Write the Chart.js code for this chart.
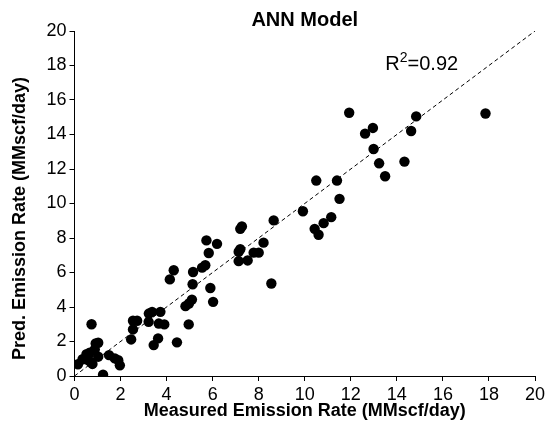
<!DOCTYPE html>
<html>
<head>
<meta charset="utf-8">
<script src="https://cdn.jsdelivr.net/npm/chart.js@4.4.1/dist/chart.umd.min.js"></script>
<style>
  body { margin: 0; background: #fff; }
</style>
</head>
<body>
<canvas id="annChart" width="557" height="431"></canvas>
<script>
// measured vs predicted emission rate
const measured = [
  0.15, 0.35, 0.52, 0.66, 0.69, 0.59, 0.78, 0.74, 0.88, 0.92, 1.03, 1.03, 1.24, 1.5, 1.75, 1.9, 1.97,
  2.46, 2.54, 2.54, 2.72, 3.23, 3.37, 3.73, 3.22, 3.66, 3.9, 3.63, 3.44, 4.45, 4.96, 4.82, 4.97, 5.1,
  4.14, 4.31, 5.15, 5.13, 5.54, 5.68, 5.73, 6.19, 5.83, 5.9, 6.02,
  7.2, 7.27, 7.2, 7.13, 7.13, 7.52, 7.78, 8.0, 8.21, 8.65, 8.55,
  9.92, 10.43, 10.6, 10.82, 11.15, 10.5, 11.4, 11.51,
  11.93, 12.62, 12.96, 12.99, 13.23, 13.49, 14.33, 14.62, 14.84, 17.85
];
const predicted = [
  0.68, 0.97, 1.27, 1.35, 0.83, 0.92, 0.7, 3.0, 1.54, 1.89, 1.93, 1.12, 0.08, 1.21, 1.02, 0.92, 0.62,
  2.12, 2.7, 3.2, 3.2, 3.62, 3.72, 3.72, 3.14, 3.04, 2.99, 2.18, 1.79, 1.95, 2.99, 4.05, 4.2, 4.43,
  5.6, 6.13, 6.03, 5.32, 6.28, 6.42, 7.86, 7.66, 7.13, 5.1, 4.3,
  8.53, 8.67, 7.35, 7.2, 6.66, 6.7, 7.15, 7.15, 7.73, 9.02, 5.36,
  9.55, 8.53, 8.19, 8.86, 9.21, 11.33, 11.33, 10.27,
  15.26, 14.05, 14.38, 13.16, 12.33, 11.58, 12.43, 14.2, 15.05, 15.22
];
const fitLine = [0, 20]; // 1:1 line
const axisTicks = [0, 2, 4, 6, 8, 10, 12, 14, 16, 18, 20];
const r2Text = { base: "R", sup: "2", rest: "=0.92", x: 13.5, y: 17.75 };

const fontFamily = "'Liberation Sans', Arial, Helvetica, sans-serif";

// R^2 label drawn at a data position
const r2Label = {
  id: "r2Label",
  afterDatasetsDraw(chart) {
    const { ctx, scales } = chart;
    const px = scales.x.getPixelForValue(r2Text.x);
    const py = scales.y.getPixelForValue(r2Text.y);
    ctx.save();
    ctx.fillStyle = "#000";
    ctx.textBaseline = "alphabetic";
    ctx.font = "20px " + fontFamily;
    ctx.fillText(r2Text.base, px, py);
    let w = ctx.measureText(r2Text.base).width;
    ctx.font = "14px " + fontFamily;
    ctx.fillText(r2Text.sup, px + w, py - 8);
    w += ctx.measureText(r2Text.sup).width;
    ctx.font = "20px " + fontFamily;
    ctx.fillText(r2Text.rest, px + w, py);
    ctx.restore();
  }
};

const points = measured.map((m, i) => ({ x: m, y: predicted[i] }));

const axisCommon = {
  type: "linear",
  min: 0,
  max: 20,
  afterBuildTicks: (scale) => { scale.ticks = axisTicks.map(v => ({ value: v })); },
  grid: { display: true, drawOnChartArea: false, drawTicks: true, tickLength: 5, color: "#000", lineWidth: 1 },
  border: { display: true, color: "#000", width: 1 },
  ticks: { color: "#000", padding: 3, font: { family: fontFamily, size: 18 } }
};

new Chart(document.getElementById("annChart"), {
  type: "scatter",
  data: {
    datasets: [
      {
        label: "ANN",
        data: points,
        backgroundColor: "#000",
        borderWidth: 0,
        pointRadius: 5.2,
        pointHoverRadius: 5.2
      },
      {
        type: "line",
        label: "1:1",
        data: fitLine.map(v => ({ x: v, y: v })),
        borderColor: "#000",
        borderWidth: 1,
        borderDash: [4, 3],
        pointRadius: 0,
        fill: false
      }
    ]
  },
  options: {
    responsive: false,
    animation: false,
    layout: { padding: { left: 0, right: 22, top: 0, bottom: 0 } },
    plugins: {
      legend: { display: false },
      tooltip: { enabled: false },
      title: {
        display: true,
        text: "ANN Model",
        fullSize: false,
        color: "#000",
        font: { family: fontFamily, size: 20, weight: "bold", lineHeight: 1.2 },
        padding: { top: 8, bottom: -1 }
      }
    },
    scales: {
      x: {
        ...axisCommon,
        position: "bottom",
        afterFit: (scale) => { scale.height = 55; },
        title: {
          display: true,
          text: "Measured Emission Rate (MMscf/day)",
          color: "#000",
          font: { family: fontFamily, size: 18, weight: "bold", lineHeight: 1.2 },
          padding: { top: 0, bottom: 9 }
        }
      },
      y: {
        ...axisCommon,
        position: "left",
        afterFit: (scale) => { scale.width = 74.5; },
        title: {
          display: true,
          text: "Pred. Emission Rate (MMscf/day)\u00a0\u00a0\u00a0\u00a0\u00a0\u00a0",
          color: "#000",
          font: { family: fontFamily, size: 18, weight: "bold", lineHeight: 1.2 },
          padding: { top: 9, bottom: 0 }
        }
      }
    }
  },
  plugins: [r2Label]
});
</script>
</body>
</html>
